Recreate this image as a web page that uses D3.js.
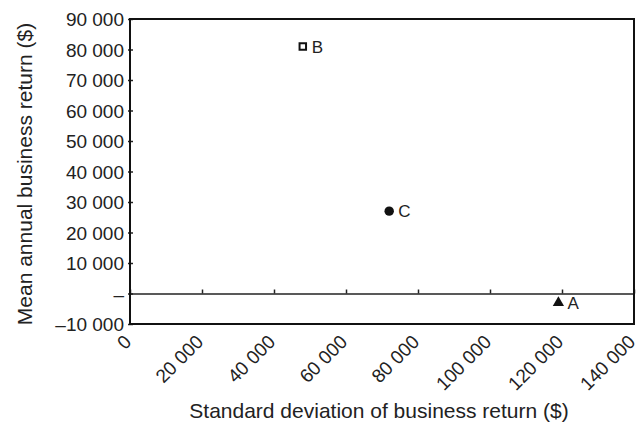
<!DOCTYPE html>
<html><head><meta charset="utf-8">
<script src="https://cdn.jsdelivr.net/npm/d3@7"></script>
<style>body{margin:0;background:#fff}text{font-family:"Liberation Sans",Arial,sans-serif;fill:#222}</style>
</head><body><svg id="c" width="638" height="424"></svg>
<script>
const names = ["A","B","C"];
const sdValues = [119000, 48000, 72000];
const meanValues = [-3000, 81000, 27000];
const shapes = ["triangle","square","circle"];
const xTicks = [0,20000,40000,60000,80000,100000,120000,140000];
const yTicks = [-10000,0,10000,20000,30000,40000,50000,60000,70000,80000,90000];
const xTitle = "Standard deviation of business return ($)";
const yTitle = "Mean annual business return ($)";

const svg = d3.select("#c");
const L=130,R=634,T=19,B=324;
const x = d3.scaleLinear().domain([0,140000]).range([L,R]);
const y = d3.scaleLinear().domain([-10000,90000]).range([B,T]);
const num = v => (v<0?"–":"") + d3.format(",")(Math.abs(v)).replace(/,/g," ");
const fmtY = v => v===0 ? "–" : num(v);

// y axis
const ya = svg.append("g").attr("transform",`translate(${L},0)`)
  .call(d3.axisLeft(y).tickValues(yTicks).tickFormat(fmtY).tickSizeInner(-3).tickSizeOuter(0).tickPadding(6));
ya.select(".domain").remove();
ya.selectAll("line").attr("stroke","#222").attr("stroke-width",1.5).attr("x1",-2);
ya.selectAll("text").style("font-size","19px").attr("dy","0.36em").attr("x",-6);

// zero line axis with ticks
const xa = svg.append("g").attr("transform",`translate(0,${y(0)})`)
  .call(d3.axisTop(x).tickValues(xTicks).tickFormat("").tickSizeInner(4).tickSizeOuter(0));
xa.select(".domain").attr("stroke","#222").attr("stroke-width",1.5);
xa.selectAll("line").attr("stroke","#222").attr("stroke-width",1.5);

// x tick labels rotated, at bottom
const xl = svg.append("g").attr("transform",`translate(0,${B})`)
  .call(d3.axisBottom(x).tickValues(xTicks).tickFormat(num).tickSize(0));
xl.select(".domain").remove();
xl.selectAll("text").style("font-size","19px")
  .attr("text-anchor","end").attr("dy",0).attr("y",0)
  .attr("transform","translate(2,19) rotate(-45)");

// frame
svg.append("rect").attr("x",L).attr("y",T).attr("width",R-L).attr("height",B-T)
  .attr("fill","none").attr("stroke","#111").attr("stroke-width",2);

// points
const data = names.map((n,i)=>({n,sd:sdValues[i],m:meanValues[i],s:shapes[i]}));
const sym = {triangle:d3.symbolTriangle,square:d3.symbolSquare,circle:d3.symbolCircle};
const sizes = {triangle:55,square:42,circle:70};
const g = svg.append("g");
data.forEach(d=>{
  const px=x(d.sd), py=y(d.m);
  g.append("path").attr("d",d3.symbol().type(sym[d.s]).size(sizes[d.s])())
    .attr("transform",`translate(${px},${py})`)
    .attr("fill",d.s==="square"?"#fff":"#111").attr("stroke","#111")
    .attr("stroke-width",d.s==="square"?2:0);
  g.append("text").attr("x",px+9).attr("y",py).attr("dy","0.36em")
    .style("font-size","17px").text(d.n);
});

// titles
svg.append("text").attr("x",379).attr("y",418).attr("text-anchor","middle")
  .style("font-size","21px").text(xTitle);
svg.append("text").attr("transform",`translate(32,174) rotate(-90)`)
  .attr("text-anchor","middle").style("font-size","21px").text(yTitle);
</script></body></html>
